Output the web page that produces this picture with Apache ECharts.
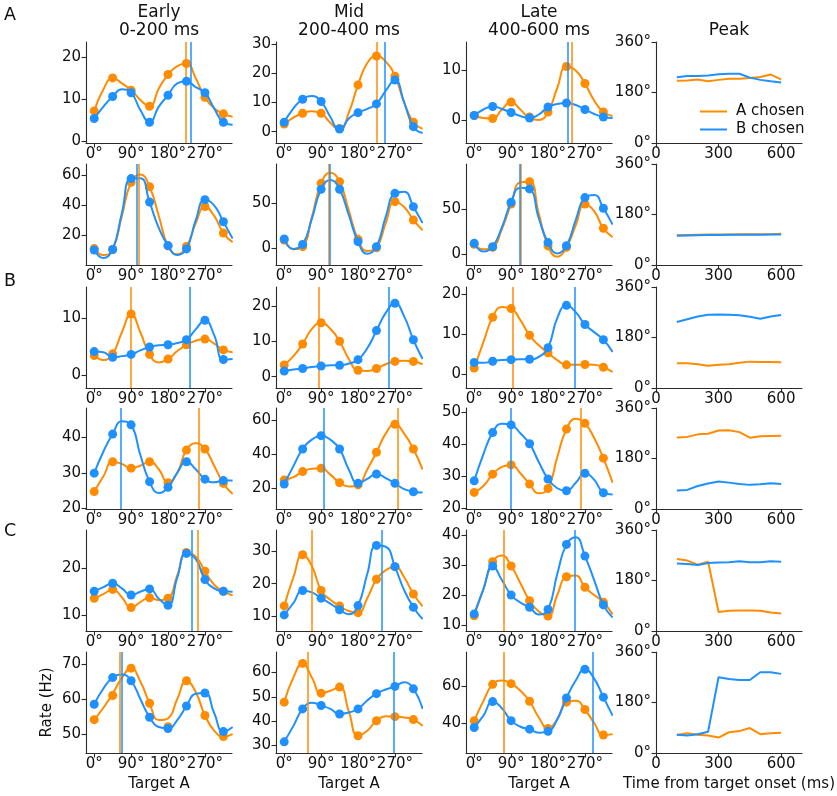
<!DOCTYPE html>
<html><head><meta charset="utf-8">
<script src="https://cdn.jsdelivr.net/npm/echarts@6/dist/echarts.min.js"></script>
<style>html,body{margin:0;padding:0;background:#fff}#c{width:837px;height:796px}</style>
</head><body><div id="c"></div><script>
const ORANGE = '#ff8c00', BLUE = '#1e90ff';
const FONT = 'DejaVu Sans';
const dotAngles = [0,45,90,135,180,225,270,315];
const curveAngles = [0,22.5,45,67.5,90,112.5,135,157.5,180,202.5,225,247.5,270,292.5,315,337.5];
const times = [100,150,200,250,300,350,400,450,500,550,600];
const angleTicks = [0,90,180,270];
const timeTicks = [0,300,600];
const peakTicks = [0,180,360];
const colTitles = ['Early\n0-200 ms','Mid\n200-400 ms','Late\n400-600 ms','Peak'];
const panelLetters = ['A','B','C'];
const seriesNames = ['A chosen','B chosen'];

// ---- Row 1 (A, top) ----  [early, mid, late]
const r1_dotsA = [[7.2,15.0,12.1,8.3,15.8,18.4,10.4,6.5],[2.6,6.3,6.3,1.1,16.0,25.9,19.0,3.2],[1.0,0.4,3.7,0.7,1.7,10.8,7.4,1.7]];
const r1_dotsB = [[5.4,10.6,11.5,4.5,10.9,14.2,11.5,4.5],[3.2,11.1,10.3,0.9,6.5,9.5,17.7,1.7],[1.0,2.8,1.6,0.5,2.7,3.5,2.2,0.7]];
const r1_curveA = [[7.2,12.3,15.0,13.7,12.1,9.8,8.3,12.5,15.8,17.8,18.4,14.9,10.4,7.8,6.5,5.8],[2.6,4.8,6.3,7.0,6.3,3.0,0.5,6.5,16.0,23.5,25.9,24.0,19.0,10.0,3.2,1.0],[1.0,0.5,0.4,2.2,3.7,2.2,0.5,0.1,1.7,6.5,10.8,10.0,7.4,4.0,1.7,0.9]];
const r1_curveB = [[5.4,8.2,10.6,12.3,11.5,7.4,4.5,8.2,10.9,13.7,14.2,12.8,11.5,7.8,4.5,3.9],[3.2,8.0,11.1,12.2,10.3,5.0,0.5,4.5,6.5,7.8,9.5,14.0,17.7,10.0,1.7,-0.5],[1.0,2.2,2.8,2.3,1.6,0.9,0.5,1.2,2.7,3.3,3.5,3.1,2.2,1.3,0.7,0.5]];
const r1_peakA = [223,225,239];
const r1_peakB = [236,245,227];
const r1_timeA = [222,223,226,220,225,229,229,232,235,244,227];
const r1_timeB = [234,239,239,241,245,247,247,233,225,220,216];
const r1_yLim = [[-0.4,23.5],[-3.9,30.7],[-4.5,15.7]];
const r1_yTicks = [[0,10,20],[0,10,20,30],[0,10]];

// ---- Row 2 ----
const r2_dotsA = [[11.3,10.7,55.3,52.4,13.1,12.7,39.3,21.6],[9.3,1.9,72.2,74.1,10.0,0.7,51.9,31.5],[11.1,7.8,55.9,80.7,9.3,7.8,55.9,28.9]];
const r2_dotsB = [[10.4,10.7,57.8,42.2,13.3,11.1,43.8,29.1],[10.4,4.4,65.6,65.6,7.4,1.9,61.1,46.3],[12.2,8.5,57.8,72.6,13.0,9.6,63.0,51.1]];
const r2_curveA = [[11.3,7,10.7,33,55.3,60.5,52.4,33,13.1,7.5,12.7,28,39.3,33,21.6,15.5],[9.3,-1,1.9,35,72.2,84,74.1,42,10.0,-3,0.7,28,51.9,46,31.5,20],[11.1,5.6,7.8,28,55.9,80,80.7,45,9.3,-2.6,7.8,32,55.9,48,28.9,19]];
const r2_curveB = [[10.4,5,10.7,35,57.8,58,42.2,25,13.3,7,11.1,30,43.8,40,29.1,18],[10.4,-0.7,4.4,33,65.6,76,65.6,37,7.4,-6,1.9,35,61.1,63,46.3,28],[12.2,3,8.5,30,57.8,74,72.6,40,13.0,1,9.6,38,63.0,66,51.1,33]];
const r2_peakA = [109,109,113];
const r2_peakB = [104,112,111];
const r2_timeA = [106,107,108,109,109,109,110,110,110,110,111];
const r2_timeB = [104,105,106,107,107,108,108,108,108,109,109];
const r2_yLim = [[0.4,67.5],[-18.5,93.7],[-11.9,100.3]];
const r2_yTicks = [[20,40,60],[0,50],[0,50]];

// ---- Row 3 (B, top) ----
const r3_dotsA = [[3.4,3.7,10.7,3.6,2.8,5.3,6.3,4.4],[3.3,9.2,15.2,10.0,1.8,2.3,4.3,4.3],[1.5,14.2,16.4,9.7,5.3,2.3,2.4,1.7]];
const r3_dotsB = [[4.1,3.1,3.6,4.9,5.3,6.2,9.6,2.7],[1.6,2.3,3.0,3.2,4.8,13.0,20.7,10.4],[2.9,3.2,3.6,3.7,6.6,17.2,12.4,8.6]];
const r3_curveA = [[3.4,2.6,3.7,7.5,10.7,7.5,3.6,2.2,2.8,4.2,5.3,6.0,6.3,5.5,4.4,4.0],[3.3,5.8,9.2,13.5,15.2,13.5,10.0,5.0,1.8,1.6,2.3,3.5,4.3,4.5,4.3,3.5],[1.5,8,14.2,16.8,16.4,13.5,9.7,7.2,5.3,3.5,2.3,2.3,2.4,2.3,1.7,0.5]];
const r3_curveB = [[4.1,4.0,3.1,3.3,3.6,4.3,4.9,5.2,5.3,5.6,6.2,8.0,9.6,7.0,2.7,2.8],[1.6,2.0,2.3,2.7,3.0,3.2,3.2,3.7,4.8,8.0,13.0,18.0,20.7,17.0,10.4,5.0],[2.9,2.8,3.2,3.5,3.6,3.7,3.7,4.3,6.6,14,17.2,15.5,12.4,10.5,8.6,5.5]];
const r3_peakA = [88,84,94];
const r3_peakB = [234,256,245];
const r3_timeA = [88,88,85,79,83,85,90,94,93,93,92];
const r3_timeB = [235,245,255,261,262,261,259,254,247,255,260];
const r3_yLim = [[-2.3,15.45],[-3.2,25.3],[-3.5,21.8]];
const r3_yTicks = [[0,10],[0,10,20],[0,10,20]];

// ---- Row 4 ----
const r4_dotsA = [[24.7,33.1,31.3,33.1,27.2,36.4,36.7,27.0],[24.9,29.8,31.7,23.3,22.0,41.1,57.5,43.0],[25.0,30.7,33.6,27.6,26.2,44.8,46.6,35.7]];
const r4_dotsB = [[29.9,40.9,43.5,27.5,25.9,33.1,28.2,27.8],[22.5,43.0,50.8,43.0,22.9,28.4,22.9,18.0],[28.6,43.7,46.1,40.2,29.2,25.5,31.0,24.9]];
const r4_curveA = [[24.7,29,33.1,32.5,31.3,32,33.1,31,27.2,30,36.4,38.3,36.7,32,27.0,24],[24.9,26.5,29.8,31.5,31.7,28,23.3,21.0,22.0,31,41.1,52,57.5,52,43.0,31],[25.0,27,30.7,33,33.6,31,27.6,24.7,26.2,36,44.8,48,46.6,42,35.7,28]];
const r4_curveB = [[29.9,36,40.9,44.5,43.5,35,27.5,24.3,25.9,30,33.1,31,28.2,27.3,27.8,27.8],[22.5,33,43.0,48.5,50.8,48.5,43.0,31,22.9,25.5,28.4,26,22.9,19.5,18.0,17.5],[28.6,37,43.7,46.5,46.1,43.5,40.2,34.5,29.2,26.3,25.5,28,31.0,29,24.9,24.3]];
const r4_peakA = [255,276,259];
const r4_peakB = [65,97,89];
const r4_timeA = [255,257,266,268,280,281,274,254,259,260,261];
const r4_timeB = [66,68,82,91,98,94,89,86,88,92,89];
const r4_yLim = [[19.8,48.25],[7.9,67],[19.8,51.4]];
const r4_yTicks = [[20,30,40],[20,40,60],[20,30,40,50]];

// ---- Row 5 (C, top) ----
const r5_dotsA = [[13.6,15.5,11.6,13.7,13.6,23.4,19.4,15.1],[13.1,29.0,17.9,13.1,11.0,21.4,25.3,16.8],[13.1,31.1,29.7,18.1,13.0,26.1,22.6,17.6]];
const r5_dotsB = [[15.1,16.8,14.3,15.6,12.1,23.2,17.6,15.1],[10.3,17.9,15.5,11.9,13.2,31.9,25.3,12.7],[13.7,29.7,20.0,15.9,15.2,36.9,33.0,16.7]];
const r5_curveA = [[13.6,14.5,15.5,13.8,11.6,12.8,13.7,13.2,13.6,18.5,23.4,22.5,19.4,16.5,15.1,14.2],[13.1,22,29.0,25.5,17.9,15,13.1,11.5,11.0,15.5,21.4,24.2,25.3,22,16.8,13],[13.1,22,31.1,33.2,29.7,24,18.1,14.5,13.0,20,26.1,26.5,22.6,20,17.6,13.5]];
const r5_curveB = [[15.1,16,16.8,15.7,14.3,15,15.6,13.5,12.1,18,23.2,22,17.6,15.7,15.1,15.0],[10.3,14,17.9,17.3,15.5,13.8,11.9,10.5,13.2,23,31.9,31.5,25.3,18,12.7,9],[13.7,22,29.7,25,20.0,17.5,15.9,13.5,15.2,27,36.9,39.3,33.0,25,16.7,12.5]];
const r5_peakA = [253,66,71];
const r5_peakB = [238,239,244];
const r5_timeA = [257,251,236,247,68,72,73,73,72,66,62];
const r5_timeB = [241,239,235,242,244,245,249,245,245,249,247];
const r5_yLim = [[6.6,28.2],[5.3,36.7],[8,41.7]];
const r5_yTicks = [[10,20],[10,20,30],[10,20,30,40]];

// ---- Row 6 ----
const r6_dotsA = [[54.1,61,68.8,58.8,52.1,65.2,55.3,49.3],[47.8,63.8,51.5,54.0,33.9,40.1,41.8,40.6],[41.3,60.9,61.3,51.8,37.1,51.3,47.3,33.5]];
const r6_dotsB = [[58.5,66.1,65.2,54.8,51.6,58.0,61.7,50.7],[31.4,45.0,46.4,42.9,45.0,51.3,54.3,53.3],[37.6,51.6,41.3,36.7,35.5,53.6,69.1,54.0]];
const r6_curveA = [[54.1,57.5,61.5,66,68.8,65,58.8,54,54.5,60,65.2,62,55.3,51,49.3,50],[47.8,58,63.8,58,51.5,52.5,54.0,44,33.9,36,40.1,42,41.8,41.5,40.6,38],[41.3,52,60.9,63,61.3,57.5,51.8,43,37.1,42,51.3,52,47.3,40,33.5,34]];
const r6_curveB = [[58.5,63,66.1,67,65.2,60,54.8,52,51.6,54,58.0,61.5,61.7,56,50.7,52],[31.4,38,45.0,47.5,46.4,45,42.9,43.5,45.0,48.5,51.3,53,54.3,56,53.3,45],[37.6,44,51.6,48,41.3,38,36.7,34.8,35.5,42,53.6,63,69.1,64,54.0,44]];
const r6_peakA = [62,57,71];
const r6_peakB = [66,267,289];
const r6_timeA = [64,70,65,62,55,74,78,89,67,70,72];
const r6_timeB = [65,62,67,76,270,264,260,260,288,288,282];
const r6_yLim = [[44.6,73.4],[26.8,68.5],[23.8,78.4]];
const r6_yTicks = [[50,60,70],[30,40,50,60],[40,60]];

const rows = [
  [r1_dotsA,r1_dotsB,r1_curveA,r1_curveB,r1_peakA,r1_peakB,r1_timeA,r1_timeB,r1_yLim,r1_yTicks],
  [r2_dotsA,r2_dotsB,r2_curveA,r2_curveB,r2_peakA,r2_peakB,r2_timeA,r2_timeB,r2_yLim,r2_yTicks],
  [r3_dotsA,r3_dotsB,r3_curveA,r3_curveB,r3_peakA,r3_peakB,r3_timeA,r3_timeB,r3_yLim,r3_yTicks],
  [r4_dotsA,r4_dotsB,r4_curveA,r4_curveB,r4_peakA,r4_peakB,r4_timeA,r4_timeB,r4_yLim,r4_yTicks],
  [r5_dotsA,r5_dotsB,r5_curveA,r5_curveB,r5_peakA,r5_peakB,r5_timeA,r5_timeB,r5_yLim,r5_yTicks],
  [r6_dotsA,r6_dotsB,r6_curveA,r6_curveB,r6_peakA,r6_peakB,r6_timeA,r6_timeB,r6_yLim,r6_yTicks]
];

// ---- layout ----
const rowTops = [42,164,287,408,530,652];
const colLefts = [86,276,466,656];
const PW = 146, PH = 101;
const AXIS_COLOR = '#2b2b2b';
const TXT = '#111';
const FS = 15;

const grids = [], xAxes = [], yAxes = [], series = [];
const pair = (xs, ys) => xs.map((x, i) => [x, ys[i]]);

function axisBase(ticks, fmt, lim, isX) {
  return {
    type: 'value', min: lim[0], max: lim[1],
    axisLine: { show: true, onZero: false, lineStyle: { color: AXIS_COLOR, width: 1.1 } },
    axisTick: { show: true, length: 4.5, customValues: ticks, lineStyle: { color: AXIS_COLOR, width: 1.1 } },
    axisLabel: { customValues: ticks, formatter: fmt, fontFamily: FONT, fontSize: FS, color: TXT, margin: isX ? 4 : 5 },
    splitLine: { show: false }
  };
}

rows.forEach((row, r) => {
  const [dA, dB, cA, cB, pA, pB, tA, tB, yLim, yTicks] = row;
  for (let c = 0; c < 4; c++) {
    const gi = r * 4 + c;
    grids.push({ left: colLefts[c], top: rowTops[r], width: PW, height: PH, containLabel: false });
    if (c < 3) {
      const xa = axisBase(angleTicks, v => v + '°', [-20, 336], true);
      xa.gridIndex = gi;
      const ya = axisBase(yTicks[c], v => String(v), yLim[c], false);
      ya.gridIndex = gi;
      if (r === 5) {
        xa.name = 'Target A'; xa.nameLocation = 'middle'; xa.nameGap = 24;
        xa.nameTextStyle = { fontFamily: FONT, fontSize: FS, color: TXT };
        if (c === 0) {
          ya.name = 'Rate (Hz)'; ya.nameLocation = 'middle'; ya.nameGap = 31;
          ya.nameTextStyle = { fontFamily: FONT, fontSize: FS, color: TXT };
        }
      }
      xAxes.push(xa); yAxes.push(ya);
      series.push({ type: 'line', name: seriesNames[0], xAxisIndex: gi, yAxisIndex: gi, data: pair(curveAngles, cA[c]), smooth: 0.5, symbol: 'none', lineStyle: { color: ORANGE, width: 2 }, itemStyle: { color: ORANGE }, z: 2 });
      series.push({ type: 'scatter', name: seriesNames[0], xAxisIndex: gi, yAxisIndex: gi, data: pair(dotAngles, dA[c]), symbolSize: 9, itemStyle: { color: ORANGE, opacity: 1 }, z: 3 });
      series.push({ type: 'line', name: seriesNames[1], xAxisIndex: gi, yAxisIndex: gi, data: pair(curveAngles, cB[c]), smooth: 0.5, symbol: 'none', lineStyle: { color: BLUE, width: 2 }, itemStyle: { color: BLUE }, z: 4 });
      series.push({ type: 'scatter', name: seriesNames[1], xAxisIndex: gi, yAxisIndex: gi, data: pair(dotAngles, dB[c]), symbolSize: 9, itemStyle: { color: BLUE, opacity: 1 }, z: 5,
        markLine: { silent: true, symbol: ['none', 'none'], label: { show: false }, animation: false,
          data: [ { xAxis: pA[c], lineStyle: { color: ORANGE, width: 1.5, type: 'solid' } },
                  { xAxis: pB[c], lineStyle: { color: BLUE, width: 1.5, type: 'solid' } } ] } });
    } else {
      const xa = axisBase(timeTicks, v => String(v), [0, 700], true);
      xa.gridIndex = gi;
      const ya = axisBase(peakTicks, v => v + '°', [0, 360], false);
      ya.gridIndex = gi;
      if (r === 5) {
        xa.name = 'Time from target onset (ms)'; xa.nameLocation = 'middle'; xa.nameGap = 24;
        xa.nameTextStyle = { fontFamily: FONT, fontSize: FS, color: TXT };
      }
      xAxes.push(xa); yAxes.push(ya);
      series.push({ type: 'line', name: seriesNames[0], xAxisIndex: gi, yAxisIndex: gi, data: pair(times, tA), symbol: 'none', lineStyle: { color: ORANGE, width: 2 }, itemStyle: { color: ORANGE } });
      series.push({ type: 'line', name: seriesNames[1], xAxisIndex: gi, yAxisIndex: gi, data: pair(times, tB), symbol: 'none', lineStyle: { color: BLUE, width: 2 }, itemStyle: { color: BLUE } });
    }
  }
});

const titles = [];
colTitles.forEach((t, c) => {
  const twoLine = t.indexOf('\n') >= 0;
  titles.push({ text: t, left: colLefts[c] + PW / 2, top: twoLine ? 21.5 : 30.5, padding: 0, textAlign: 'center', textVerticalAlign: 'middle',
    textStyle: { fontFamily: FONT, fontSize: 17, fontWeight: 'normal', color: TXT, lineHeight: 18.5 } });
});
const letterTops = [15, 281, 531];
panelLetters.forEach((L, i) => {
  titles.push({ text: L, left: 10, top: letterTops[i], padding: 0, textAlign: 'center', textVerticalAlign: 'middle',
    textStyle: { fontFamily: FONT, fontSize: 17.5, fontWeight: 'normal', color: TXT } });
});

const chart = echarts.init(document.getElementById('c'), null, { renderer: 'canvas' });
chart.setOption({
  animation: false,
  backgroundColor: '#fff',
  title: titles,
  legend: { data: seriesNames, orient: 'vertical', left: 695, top: 98, icon: 'rect', itemWidth: 27, itemHeight: 2, itemGap: 1,
    textStyle: { fontFamily: FONT, fontSize: FS, color: TXT, lineHeight: 17, padding: [0, 0, 0, 4] }, selectedMode: false },
  grid: grids, xAxis: xAxes, yAxis: yAxes, series: series
});
</script></body></html>
